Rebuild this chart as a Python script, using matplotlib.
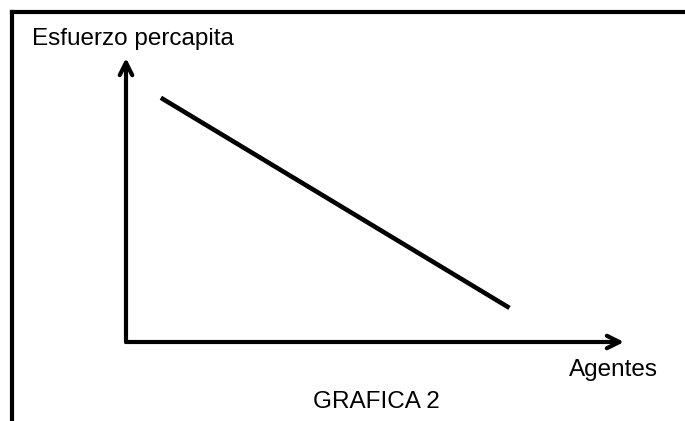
import matplotlib
matplotlib.use("Agg")
import matplotlib.pyplot as plt
from matplotlib.lines import Line2D

# data (axis units 0..10)
agentes = [0.7, 7.7]
esfuerzo = [8.6, 1.2]
ylabel = "Esfuerzo percapita"
xlabel = "Agentes"
titulo = "GRAFICA 2"

W, H = 685, 421
plt.rcParams['font.family'] = ['Liberation Sans', 'DejaVu Sans']

fig = plt.figure(figsize=(W / 100, H / 100), dpi=100)
fig.patch.set_facecolor("white")

# plot area: origin at pixel (126, 342), arrow tips at x=624 and y=58
ox, oy, tx, ty = 126, 342, 624, 58
ax = fig.add_axes([ox / W, 1 - oy / H, (tx - ox) / W, (oy - ty) / H])
ax.set_xlim(0, 10)
ax.set_ylim(0, 10)
ax.axis("off")

ax.plot(agentes, esfuerzo, color="black", lw=3.3, solid_capstyle="butt")

arrow = dict(arrowstyle="->,head_length=0.9,head_width=0.45", color="black",
             lw=3.0, shrinkA=0, shrinkB=0)
ax.annotate("", xy=(1, 0), xytext=(0, 0), xycoords="axes fraction", arrowprops=arrow, annotation_clip=False)
ax.annotate("", xy=(0, 1), xytext=(0, 0), xycoords="axes fraction", arrowprops=arrow, annotation_clip=False)

# outer frame (left and top only)
fig.add_artist(Line2D([11.5 / W, 11.5 / W], [0, 1 - 12 / H], color="black", lw=3.0, transform=fig.transFigure))
fig.add_artist(Line2D([11.5 / W, 1], [1 - 12 / H, 1 - 12 / H], color="black", lw=3.0, transform=fig.transFigure))

fs = 17.5
fig.text(32 / W, 1 - 39 / H, ylabel, fontsize=fs, va="center", ha="left")
fig.text(613 / W, 1 - 370 / H, xlabel, fontsize=fs, va="center", ha="center")
fig.text(376 / W, 1 - 402 / H, titulo, fontsize=fs, va="center", ha="center")

fig.savefig("out.png", dpi=100)
